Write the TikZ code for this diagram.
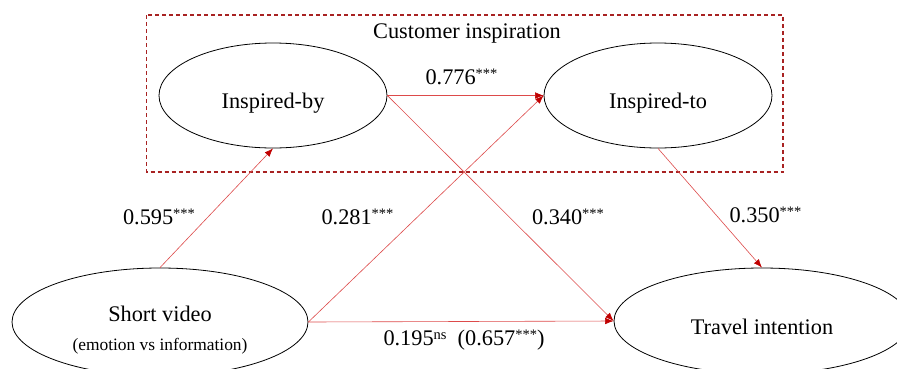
\documentclass[tikz,border=0pt]{standalone}
\usepackage{fontspec}
\setmainfont{Liberation Serif}
\usepackage{tikz}
\usetikzlibrary{shapes.geometric, arrows.meta}
\newcommand{\sig}[1]{\raisebox{6.5pt}{\fontsize{14.5}{14.5}\selectfont #1}}

\begin{document}
\begin{tikzpicture}[x=1pt, y=-1pt,
	construct/.style={draw=black, line width=0.8pt, ellipse, inner sep=0pt,
		font=\fontsize{22.3}{25}\selectfont},
	oneline/.style={text height=31pt, text depth=5pt},
	coef/.style={font=\fontsize{22.3}{25}\selectfont, inner sep=0pt},
	path/.style={draw=pathred, line width=0.6pt,
		-{Latex[length=8.5pt, width=6.5pt, fill=tipred, color=tipred]}}]
	
	% Color definitions
	\definecolor{pathred}{HTML}{DD4A4A}
	\definecolor{tipred}{HTML}{C00000}
	\definecolor{boxred}{HTML}{A82222}
	
	\useasboundingbox (0,0) rectangle (897,368);
	
	% Customer inspiration frame
	\draw[boxred, line width=1.1pt, dash pattern=on 4pt off 3pt]
	(146.5,15) rectangle (783,172);
	\node[coef] (cust) at (467,33) {Customer inspiration};
	
	% --- Nodes ---
	\node[construct, oneline, minimum width=228pt, minimum height=105pt]
	(iby) at (273,95.5) {Inspired-by};
	\node[construct, oneline, minimum width=228pt, minimum height=105pt]
	(ito) at (658,95.5) {Inspired-to};
	\node[construct, minimum width=296pt, minimum height=108pt, align=center]
	(video) at (160,322)
	{\rule{0pt}{31pt}Short video\\[4pt]{\fontsize{17.4}{20}\selectfont (emotion vs information)}};
	\node[construct, oneline, minimum width=296pt, minimum height=106pt]
	(travel) at (762,321) {Travel intention};
	
	% --- Paths ---
	\draw[path] (video.north) -- (iby.south);
	\draw[path] (iby.east) -- (ito.west);
	\draw[path] (video.east) -- (ito.west);
	\draw[path] (iby.east) -- (travel.west);
	\draw[path] (ito.south) -- (travel.north);
	\draw[path] (video.east) -- (travel.west);
	
	% Coefficients
	\node[coef] (c595) at (159,217) {0.595\sig{***}};
	\node[coef] (c281) at (357.5,217) {0.281\sig{***}};
	\node[coef] (c776) at (461.5,77) {0.776\sig{***}};
	\node[coef] (c340) at (568,217) {0.340\sig{***}};
	\node[coef] (c350) at (765.5,215) {0.350\sig{***}};
	\node[coef] (c195) at (464,340) {0.195\sig{ns}\ \ (0.657\sig{***})};
	
\end{tikzpicture}
\end{document}
